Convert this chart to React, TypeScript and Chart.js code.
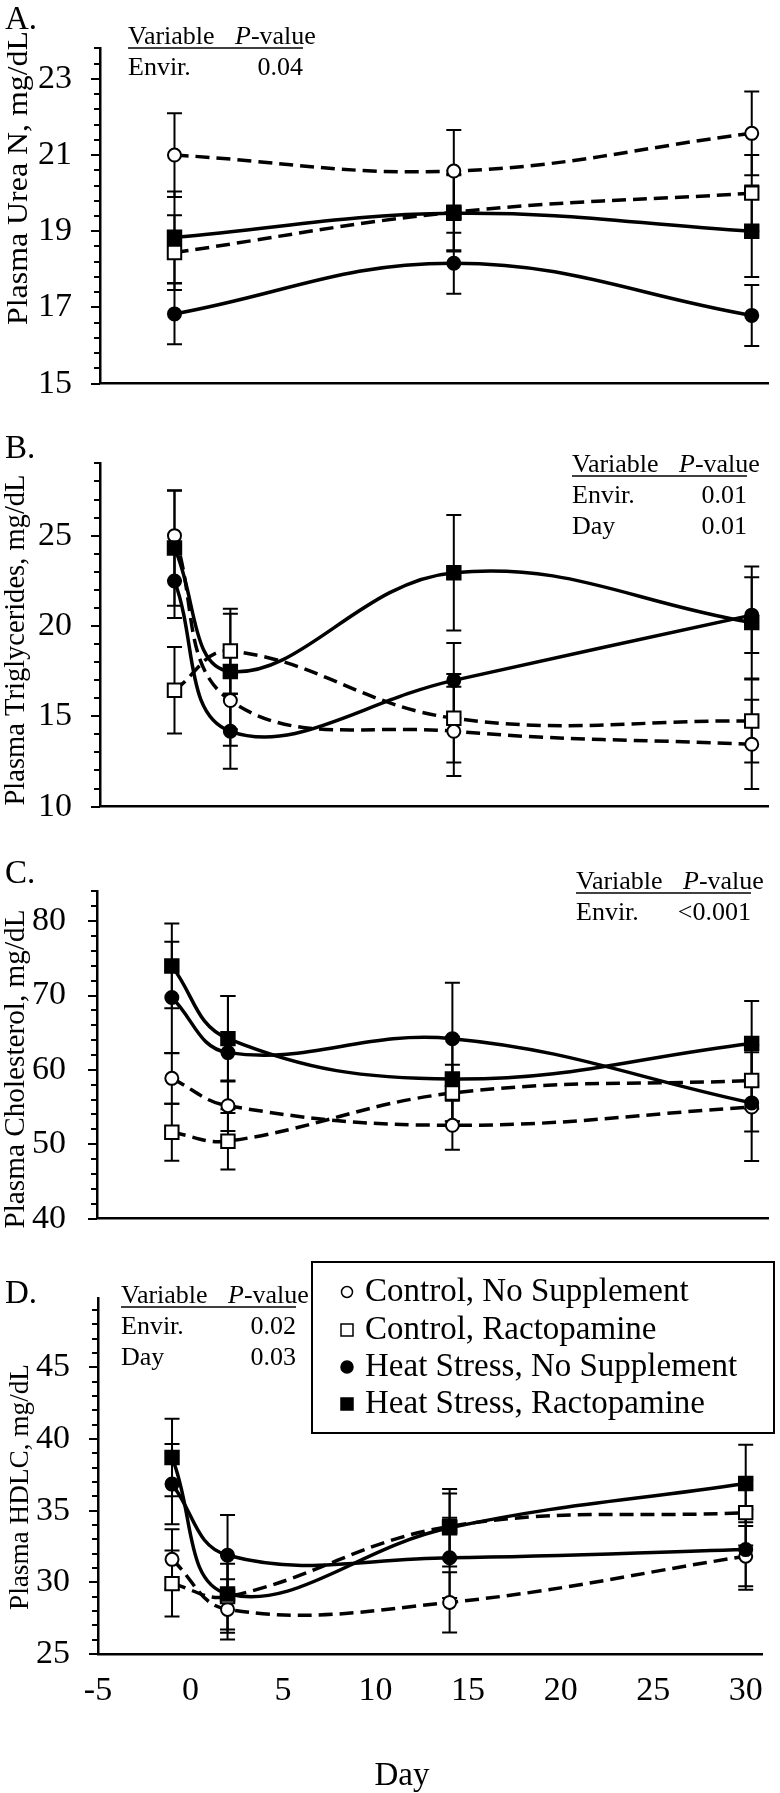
import React, { useEffect, useRef } from 'react';
import { Chart, registerables } from 'chart.js';

Chart.register(...registerables);

const SERIF = '"Liberation Serif", "Times New Roman", Times, serif';

// ---------------- Data ----------------
const seriesNames = [
  'Control, No Supplement',
  'Control, Ractopamine',
  'Heat Stress, No Supplement',
  'Heat Stress, Ractopamine',
];

const daysA = [-1, 14, 30];
const days = [-1, 2, 14, 30];
const xTickValues = [-5, 0, 5, 10, 15, 20, 25, 30];

// A. Plasma urea N, mg/dL
const ureaCtrlNoSupp = [21.0, 20.58, 21.57];
const ureaCtrlRac = [18.44, 19.5, 20.0];
const ureaHsNoSupp = [16.83, 18.16, 16.79];
const ureaHsRac = [18.84, 19.47, 19.0];
const ureaCtrlNoSuppSe = [1.1, 1.08, 1.1];
const ureaCtrlRacSe = [0.98, 1.0, 1.0];
const ureaHsNoSuppSe = [0.8, 0.8, 0.8];
const ureaHsRacSe = [1.2, 1.0, 1.2];
const ureaTicks = [15, 17, 19, 21, 23];
const ureaStats = [['Envir.', '0.04']];

// B. Plasma triglycerides, mg/dL
const tgCtrlNoSupp = [25.0, 15.87, 14.17, 13.45];
const tgCtrlRac = [16.44, 18.61, 14.89, 14.74];
const tgHsNoSupp = [22.49, 14.17, 16.99, 20.6];
const tgHsRac = [24.32, 17.48, 22.95, 20.19];
const tgCtrlNoSuppSe = [2.48, 2.5, 2.47, 2.47];
const tgCtrlRacSe = [2.4, 2.35, 2.45, 2.3];
const tgHsNoSuppSe = [2.05, 2.07, 2.07, 2.1];
const tgHsRacSe = [3.2, 3.2, 3.2, 3.1];
const tgTicks = [10, 15, 20, 25];
const tgStats = [['Envir.', '0.01'], ['Day', '0.01']];

// C. Plasma cholesterol, mg/dL
const cholCtrlNoSupp = [58.86, 55.18, 52.55, 55.0];
const cholCtrlRac = [51.61, 50.41, 56.88, 58.57];
const cholHsNoSupp = [69.73, 62.32, 64.2, 55.56];
const cholHsRac = [73.97, 64.2, 58.77, 63.56];
const cholCtrlNoSuppSe = [3.4, 3.4, 3.3, 3.3];
const cholCtrlRacSe = [3.83, 3.8, 3.8, 3.8];
const cholHsNoSuppSe = [7.5, 7.6, 7.5, 7.8];
const cholHsRacSe = [5.7, 5.75, 5.7, 5.7];
const cholTicks = [40, 50, 60, 70, 80];
const cholStats = [['Envir.', '<0.001']];

// D. Plasma HDLC, mg/dL
const hdlCtrlNoSupp = [31.6, 28.11, 28.6, 31.82];
const hdlCtrlRac = [29.91, 29.0, 33.9, 34.86];
const hdlHsNoSupp = [36.85, 31.89, 31.71, 32.28];
const hdlHsRac = [38.7, 29.19, 33.8, 36.89];
const hdlCtrlNoSuppSe = [2.1, 2.1, 2.1, 2.1];
const hdlCtrlRacSe = [2.3, 2.3, 2.3, 2.3];
const hdlHsNoSuppSe = [2.8, 2.8, 2.8, 2.8];
const hdlHsRacSe = [2.7, 2.7, 2.7, 2.7];
const hdlTicks = [25, 30, 35, 40, 45];
const hdlStats = [['Envir.', '0.02'], ['Day', '0.03']];

// ---------------- Styles ----------------
const seriesStyle = [
  { shape: 'circle', fill: '#ffffff', dash: [14, 7] },
  { shape: 'rect', fill: '#ffffff', dash: [14, 7] },
  { shape: 'circle', fill: '#000000', dash: [] },
  { shape: 'rect', fill: '#000000', dash: [] },
];

const PAGE_W = 780;
const AREA_RIGHT = 774;

const panels = [
  {
    id: 'A', letter: 'A.', yTitle: 'Plasma Urea N, mg/dL', days: daysA,
    values: [ureaCtrlNoSupp, ureaCtrlRac, ureaHsNoSupp, ureaHsRac],
    ses: [ureaCtrlNoSuppSe, ureaCtrlRacSe, ureaHsNoSuppSe, ureaHsRacSe],
    yTicks: ureaTicks, yMin: 15, yMax: 23.8, minor: 0.4, stats: ureaStats,
    top: 0, height: 432, areaTop: 25, areaBottom: 407, left: 100,
    titleX: 27, titleY: 178, titleSize: 29, titleLen: 294, letterY: 29, tableX: 128, tableY: 44,
    showX: false, legend: false,
  },
  {
    id: 'B', letter: 'B.', yTitle: 'Plasma Triglycerides, mg/dL', days,
    values: [tgCtrlNoSupp, tgCtrlRac, tgHsNoSupp, tgHsRac],
    ses: [tgCtrlNoSuppSe, tgCtrlRacSe, tgHsNoSuppSe, tgHsRacSe],
    yTicks: tgTicks, yMin: 10, yMax: 29, minor: 1, stats: tgStats,
    top: 415, height: 440, areaTop: 443, areaBottom: 835, left: 100,
    titleX: 24, titleY: 640, titleSize: 29, titleLen: 331, letterY: 458, tableX: 572, tableY: 472,
    showX: false, legend: false,
  },
  {
    id: 'C', letter: 'C.', yTitle: 'Plasma Cholesterol, mg/dL', days,
    values: [cholCtrlNoSupp, cholCtrlRac, cholHsNoSupp, cholHsRac],
    ses: [cholCtrlNoSuppSe, cholCtrlRacSe, cholHsNoSuppSe, cholHsRacSe],
    yTicks: cholTicks, yMin: 40, yMax: 84, minor: 2, stats: cholStats,
    top: 840, height: 430, areaTop: 863, areaBottom: 1253, left: 97,
    titleX: 24, titleY: 1069, titleSize: 29, titleLen: 319, letterY: 883, tableX: 576, tableY: 889,
    showX: false, legend: false,
  },
  {
    id: 'D', letter: 'D.', yTitle: 'Plasma HDLC, mg/dL', days,
    values: [hdlCtrlNoSupp, hdlCtrlRac, hdlHsNoSupp, hdlHsRac],
    ses: [hdlCtrlNoSuppSe, hdlCtrlRacSe, hdlHsNoSuppSe, hdlHsRacSe],
    yTicks: hdlTicks, yMin: 25, yMax: 49.8, minor: 1, stats: hdlStats,
    top: 1250, height: 543, areaTop: 1288, areaBottom: 1654, left: 98,
    titleX: 28, titleY: 1487, titleSize: 28, titleLen: 246, letterY: 1303, tableX: 121, tableY: 1303,
    showX: true, legend: true,
  },
];

function drawMarker(ctx: CanvasRenderingContext2D, shape: string, fill: string, x: number, y: number, size: number) {
  ctx.save();
  ctx.fillStyle = fill;
  ctx.strokeStyle = '#000';
  ctx.lineWidth = 1.5;
  ctx.beginPath();
  if (shape === 'circle') {
    ctx.arc(x, y, size / 2, 0, Math.PI * 2);
  } else {
    ctx.rect(x - size / 2, y - size / 2, size, size);
  }
  ctx.fill();
  ctx.stroke();
  ctx.restore();
}

function makeChart(canvas: HTMLCanvasElement, p: any) {
  const errorBars = {
    id: 'errorBars' + p.id,
    beforeDatasetsDraw(chart: any) {
      const ctx = chart.ctx;
      const xs = chart.scales.x;
      const ys = chart.scales.y;
      ctx.save();
      ctx.strokeStyle = '#000';
      ctx.lineWidth = 2;
      p.values.forEach((vals: number[], i: number) => {
        vals.forEach((v: number, j: number) => {
          const se = p.ses[i][j];
          const x = xs.getPixelForValue(p.days[j]);
          const yT = ys.getPixelForValue(v + se);
          const yB = ys.getPixelForValue(v - se);
          ctx.beginPath();
          ctx.moveTo(x, yT);
          ctx.lineTo(x, yB);
          ctx.moveTo(x - 7.5, yT);
          ctx.lineTo(x + 7.5, yT);
          ctx.moveTo(x - 7.5, yB);
          ctx.lineTo(x + 7.5, yB);
          ctx.stroke();
        });
      });
      ctx.restore();
    },
  };

  const decor = {
    id: 'decor' + p.id,
    afterDraw(chart: any) {
      const ctx = chart.ctx;
      const ys = chart.scales.y;
      const area = chart.chartArea;
      const off = p.top;
      ctx.save();
      // y tick marks (major + minor), outside
      ctx.strokeStyle = '#000';
      ctx.lineWidth = 2;
      const n = Math.round((p.yMax - p.yMin) / p.minor);
      for (let k = 0; k <= n; k++) {
        const v = p.yMin + k * p.minor;
        if (v > p.yMax + 1e-6) break;
        const y = Math.round(ys.getPixelForValue(v));
        const major = p.yTicks.some((t: number) => Math.abs(t - v) < 1e-6);
        const len = major ? 9 : 6;
        ctx.beginPath();
        ctx.moveTo(area.left - len, y);
        ctx.lineTo(area.left, y);
        ctx.stroke();
      }
      ctx.fillStyle = '#000';
      // panel letter
      ctx.font = `33px ${SERIF}`;
      ctx.textAlign = 'left';
      ctx.textBaseline = 'alphabetic';
      ctx.fillText(p.letter, 5, p.letterY - off);
      // rotated y title
      ctx.save();
      ctx.font = `${p.titleSize}px ${SERIF}`;
      const tw = ctx.measureText(p.yTitle).width;
      const sx = p.titleLen / tw;
      ctx.translate(p.titleX, p.titleY - off);
      ctx.rotate(-Math.PI / 2);
      ctx.scale(sx, 1);
      ctx.textAlign = 'center';
      ctx.fillText(p.yTitle, 0, 0);
      ctx.restore();
      // statistics table
      const tx = p.tableX;
      const ty = p.tableY - off;
      ctx.font = `26px ${SERIF}`;
      ctx.textAlign = 'left';
      ctx.fillText('Variable', tx, ty);
      ctx.font = `italic 26px ${SERIF}`;
      ctx.fillText('P', tx + 107, ty);
      const pw = ctx.measureText('P').width;
      ctx.font = `26px ${SERIF}`;
      ctx.fillText('-value', tx + 107 + pw, ty);
      ctx.lineWidth = 1.5;
      ctx.beginPath();
      ctx.moveTo(tx, ty + 4);
      ctx.lineTo(tx + 175, ty + 4);
      ctx.stroke();
      p.stats.forEach((row: string[], r: number) => {
        const yy = ty + 31 * (r + 1);
        ctx.textAlign = 'left';
        ctx.fillText(row[0], tx, yy);
        ctx.textAlign = 'right';
        ctx.fillText(row[1], tx + 175, yy);
      });
      if (p.showX) {
        ctx.font = `33px ${SERIF}`;
        ctx.textAlign = 'center';
        ctx.textBaseline = 'middle';
        ctx.fillText('Day', 402, 1776 - off);
      }
      if (p.legend) {
        const bx = 312, by = 1262 - off, bw = 462, bh = 171;
        ctx.fillStyle = '#fff';
        ctx.fillRect(bx, by, bw, bh);
        ctx.strokeStyle = '#000';
        ctx.lineWidth = 2;
        ctx.strokeRect(bx, by, bw, bh);
        const rows = [1292, 1330, 1367, 1404];
        const sizes = [11, 12, 12, 12];
        seriesNames.forEach((name, i) => {
          const st = seriesStyle[i];
          const yy = rows[i] - off;
          drawMarker(ctx, st.shape, st.fill, 347, yy, sizes[i]);
          ctx.fillStyle = '#000';
          ctx.font = `33px ${SERIF}`;
          ctx.textAlign = 'left';
          ctx.textBaseline = 'middle';
          ctx.fillText(name, 365, yy);
        });
      }
      ctx.restore();
    },
  };

  const datasets = p.values.map((vals: number[], i: number) => {
    const st = seriesStyle[i];
    return {
      label: seriesNames[i],
      data: p.days.map((d: number, j: number) => ({ x: d, y: vals[j] })),
      borderColor: '#000',
      borderWidth: 3.5,
      borderDash: st.dash,
      borderCapStyle: 'butt',
      pointStyle: st.shape,
      pointRadius: st.shape === 'circle' ? 6.5 : 9.5,
      pointBackgroundColor: st.fill,
      pointBorderColor: '#000',
      pointBorderWidth: 2,
      tension: 0.4,
      fill: false,
      order: 3 - i,
      clip: false,
    };
  });

  return new Chart(canvas, {
    type: 'line',
    data: { datasets },
    options: {
      animation: false,
      responsive: false,
      maintainAspectRatio: false,
      events: [],
      layout: { padding: { top: p.areaTop - p.top, right: PAGE_W - AREA_RIGHT, left: 0, bottom: 0 } },
      plugins: {
        legend: { display: false },
        tooltip: { enabled: false },
        title: { display: false },
      },
      scales: {
        x: {
          type: 'linear',
          min: -5,
          max: 30.9,
          afterBuildTicks: (scale: any) => {
            scale.ticks = xTickValues.map((v) => ({ value: v }));
          },
          afterFit: (scale: any) => {
            scale.height = p.top + p.height - p.areaBottom;
          },
          grid: { display: false, drawTicks: false },
          border: { display: true, color: '#000', width: 2.5 },
          ticks: {
            display: p.showX,
            color: '#000',
            font: { family: SERIF, size: 34 },
            padding: 17,
            maxRotation: 0,
            autoSkip: false,
          },
        },
        y: {
          type: 'linear',
          min: p.yMin,
          max: p.yMax,
          afterBuildTicks: (scale: any) => {
            scale.ticks = p.yTicks.map((v: number) => ({ value: v }));
          },
          afterFit: (scale: any) => {
            scale.width = p.left;
          },
          grid: { display: false, drawTicks: false },
          border: { display: true, color: '#000', width: 2.5 },
          ticks: {
            color: '#000',
            font: { family: SERIF, size: 34 },
            padding: p.id === 'C' ? 31 : 28,
          },
        },
      },
    },
    plugins: [errorBars, decor],
  } as any);
}

function Panel({ p }: { p: any }) {
  const ref = useRef<HTMLCanvasElement | null>(null);
  useEffect(() => {
    if (!ref.current) return;
    const chart = makeChart(ref.current, p);
    return () => chart.destroy();
  }, [p]);
  return (
    <canvas
      ref={ref}
      width={PAGE_W}
      height={p.height}
      style={{ position: 'absolute', left: 0, top: p.top, width: PAGE_W, height: p.height }}
    />
  );
}

export default function App() {
  return (
    <div style={{ position: 'absolute', left: 0, top: 0, width: PAGE_W, height: 1793, background: '#fff', overflow: 'hidden' }}>
      {panels.map((p) => (
        <Panel key={p.id} p={p} />
      ))}
    </div>
  );
}
